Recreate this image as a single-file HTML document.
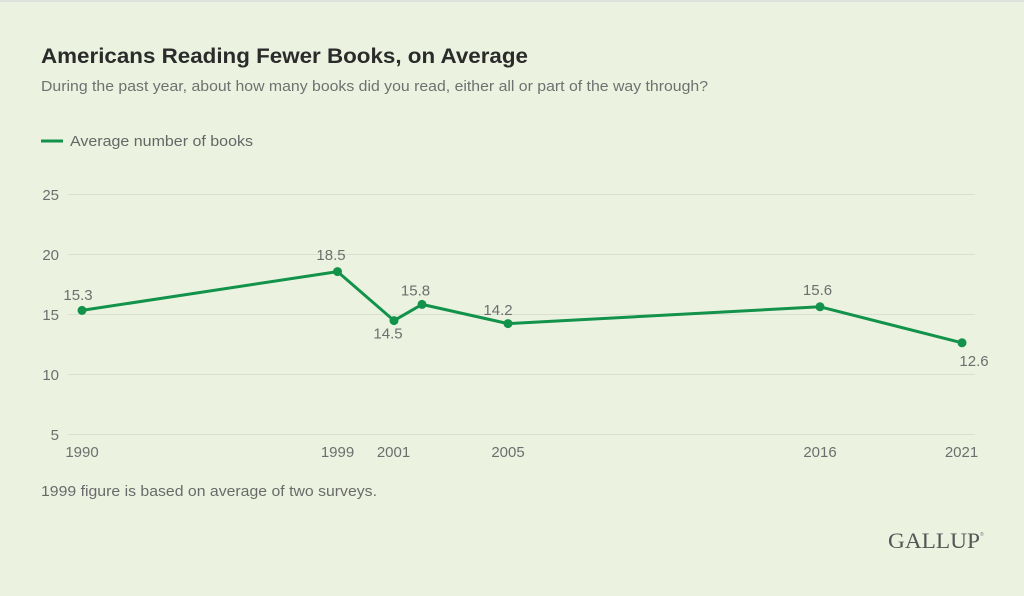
<!DOCTYPE html>
<html>
<head>
<meta charset="utf-8">
<style>
html,body{margin:0;padding:0;background:#ebf3e0;}
svg{display:block;}
text{font-family:"Liberation Sans",Arial,sans-serif;}
</style>
</head>
<body>
<svg width="1024" height="596" viewBox="0 0 1024 596" xmlns="http://www.w3.org/2000/svg">
<rect x="0" y="0" width="1024" height="596" fill="#ebf3e0"/>
<rect x="0" y="0" width="1024" height="2" fill="#dfe2dc"/>

<text x="41" y="63" font-size="21.5" font-weight="bold" fill="#2b2b2b" textLength="487" lengthAdjust="spacingAndGlyphs">Americans Reading Fewer Books, on Average</text>
<text x="41" y="91" font-size="15" fill="#707070" textLength="667" lengthAdjust="spacingAndGlyphs">During the past year, about how many books did you read, either all or part of the way through?</text>

<line x1="41" y1="141" x2="63" y2="141" stroke="#12924a" stroke-width="3"/>
<text x="70" y="146" font-size="15" fill="#666" textLength="183" lengthAdjust="spacingAndGlyphs">Average number of books</text>

<g stroke="#d9e0d0" stroke-width="1">
<line x1="68" y1="194.5" x2="975" y2="194.5"/>
<line x1="68" y1="254.5" x2="975" y2="254.5"/>
<line x1="68" y1="314.5" x2="975" y2="314.5"/>
<line x1="68" y1="374.5" x2="975" y2="374.5"/>
<line x1="68" y1="434.5" x2="975" y2="434.5"/>
</g>

<g font-size="15" fill="#6e6e6e" text-anchor="end">
<text x="59" y="200">25</text>
<text x="59" y="260">20</text>
<text x="59" y="320">15</text>
<text x="59" y="380">10</text>
<text x="59" y="440">5</text>
</g>

<g font-size="15" fill="#6e6e6e" text-anchor="middle">
<text x="82" y="457">1990</text>
<text x="337.5" y="457">1999</text>
<text x="393.5" y="457">2001</text>
<text x="508" y="457">2005</text>
<text x="820" y="457">2016</text>
<text x="961.5" y="457">2021</text>
</g>

<polyline points="82,310.4 337.5,271.6 394,320.6 422,304.4 508,323.6 820,306.8 962,342.8" fill="none" stroke="#12924a" stroke-width="3" stroke-linejoin="round"/>
<g fill="#12924a">
<circle cx="82" cy="310.4" r="4.5"/>
<circle cx="337.5" cy="271.6" r="4.5"/>
<circle cx="394" cy="320.6" r="4.5"/>
<circle cx="422" cy="304.4" r="4.5"/>
<circle cx="508" cy="323.6" r="4.5"/>
<circle cx="820" cy="306.8" r="4.5"/>
<circle cx="962" cy="342.8" r="4.5"/>
</g>

<g font-size="15" fill="#6e6e6e" text-anchor="middle">
<text x="78" y="300">15.3</text>
<text x="331" y="260">18.5</text>
<text x="388" y="338.5">14.5</text>
<text x="415.5" y="295.5">15.8</text>
<text x="498" y="315">14.2</text>
<text x="817.5" y="295">15.6</text>
<text x="974" y="366">12.6</text>
</g>

<text x="41" y="496" font-size="15" fill="#6a6a6a" textLength="336" lengthAdjust="spacingAndGlyphs">1999 figure is based on average of two surveys.</text>

<text x="888" y="548" style="font-family:'Liberation Serif','DejaVu Serif',serif;" font-size="22" fill="#555" textLength="92" lengthAdjust="spacingAndGlyphs">GALLUP</text>
<text x="980" y="536" font-size="5" fill="#777">®</text>
</svg>
</body>
</html>
